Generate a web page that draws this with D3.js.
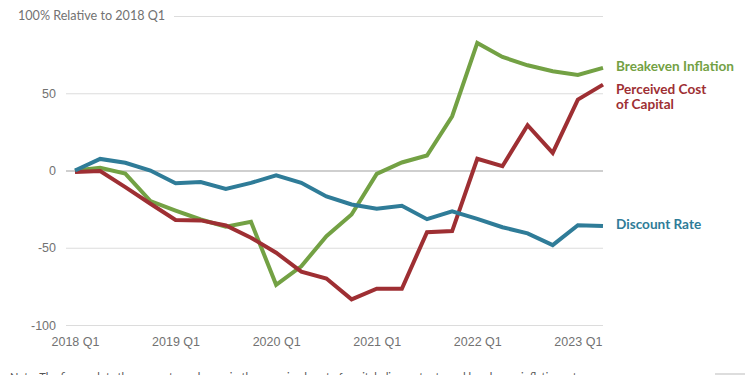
<!DOCTYPE html>
<html>
<head>
<meta charset="utf-8">
<script src="https://cdn.jsdelivr.net/npm/d3@7"></script>
<style>
  body { margin: 0; background: #fff; }
  svg { display: block; font-family: Lato, "Open Sans", sans-serif; }
  .tick text { fill: #727272; font-size: 12.5px; }
</style>
</head>
<body>
<div id="chart"></div>
<script>
var svgWidth = 750;
var svgHeight = 375;

// quarters 2018 Q1 .. 2023 Q2
var quarters = ["2018 Q1", "2018 Q2", "2018 Q3", "2018 Q4",
    "2019 Q1", "2019 Q2", "2019 Q3", "2019 Q4",
    "2020 Q1", "2020 Q2", "2020 Q3", "2020 Q4",
    "2021 Q1", "2021 Q2", "2021 Q3", "2021 Q4",
    "2022 Q1", "2022 Q2", "2022 Q3", "2022 Q4",
    "2023 Q1", "2023 Q2"];
var xTickLabels = ["2018 Q1", "2019 Q1", "2020 Q1", "2021 Q1", "2022 Q1", "2023 Q1"];
var yTicks = [-100, -50, 0, 50, 100];

var breakeven = [0, 1.7, -2, -19.8, -25.9, -31.7, -36.4, -33.2, -74, -62, -42.5, -28.5,
    -2.2, 5.2, 9.7, 35.1, 82.6, 73.5, 68.1, 64.2, 61.9, 66.4];
var costOfCapital = [-1, -0.4, -10.8, -21.5, -32, -32.3, -35.6, -43.5, -53.2, -65.5, -69.9, -83.4,
    -76.5, -76.5, -39.9, -39.2, 7.6, 2.8, 29.3, 11.4, 45.9, 55.6];
var discountRate = [0, 7.5, 5, 0, -8.3, -7.5, -12, -8, -3.2, -8, -16.8, -22,
    -24.8, -22.8, -31.5, -26.5, -31.3, -36.7, -40.7, -48.3, -35.4, -36];

var seriesNames = [["Breakeven Inflation"], ["Perceived Cost", "of Capital"], ["Discount Rate"]];
var seriesColors = ["#73a144", "#9e2f33", "#2f7c98"];
var seriesValues = [breakeven, costOfCapital, discountRate];

var margin = { top: 16, right: 147, bottom: 50, left: 66 };
var width = svgWidth - margin.left - margin.right;

var svg = d3.select("#chart")
    .append("svg")
    .attr("width", svgWidth)
    .attr("height", svgHeight);

var chartGroup = svg.append("g")
    .attr("transform", `translate(${margin.left}, ${margin.top})`);

var xScale = d3.scalePoint()
    .domain(quarters)
    .range([9, width]);

var yScale = d3.scaleLinear()
    .domain([-100, 100])
    .range([309, 0]);

// gridlines + y labels
var leftAxis = d3.axisLeft(yScale)
    .tickValues(yTicks)
    .tickSize(-width)
    .tickPadding(10)
    .tickFormat(function (d) { return d === 100 ? "" : d; });

var yAxis = chartGroup.append("g").call(leftAxis);
yAxis.select(".domain").remove();
yAxis.selectAll(".tick line")
    .attr("stroke", function (d) { return d === 0 ? "#a0a0a0" : "#dcdcdc"; })
    .attr("stroke-width", 1.2)
    .attr("x1", function (d) { return d === 100 ? 108 : 0; });

chartGroup.append("text")
    .attr("x", -48)
    .attr("y", yScale(100))
    .attr("dy", "0.35em")
    .attr("fill", "#727272")
    .style("font-size", "12.6px")
    .text("100% Relative to 2018 Q1");

// x labels
var bottomAxis = d3.axisBottom(xScale)
    .tickValues(xTickLabels)
    .tickSize(0)
    .tickPadding(12);

var xAxis = chartGroup.append("g")
    .attr("transform", `translate(0, ${yScale(-100)})`)
    .call(bottomAxis);
xAxis.select(".domain").remove();

// lines
var line = d3.line()
    .x(function (d, i) { return xScale(quarters[i]); })
    .y(function (d) { return yScale(d); });

chartGroup.selectAll(".series")
    .data(seriesValues)
    .enter()
    .append("path")
    .attr("class", "series")
    .attr("d", line)
    .attr("fill", "none")
    .attr("stroke", function (d, i) { return seriesColors[i]; })
    .attr("stroke-width", 4)
    .attr("stroke-linejoin", "miter");

// end labels, one text per line
var labelY = [66, 89, 224];
seriesNames.forEach(function (names, i) {
    names.forEach(function (n, j) {
        chartGroup.append("text")
            .attr("x", width + 13)
            .attr("y", labelY[i] - margin.top + j * 15.5)
            .attr("dy", "0.35em")
            .attr("fill", seriesColors[i])
            .style("font-size", "13.6px")
            .style("font-weight", "bold")
            .text(n);
    });
});

// note (cut off at bottom, as in the source)
svg.append("text")
    .attr("x", 10)
    .attr("y", 381)
    .attr("fill", "#555")
    .style("font-size", "11px")
    .text("Note: The figure plots the percentage change in the perceived cost of capital, discount rate and breakeven inflation rate.");

svg.append("rect")
    .attr("x", 715)
    .attr("y", 373)
    .attr("width", 30)
    .attr("height", 3)
    .attr("fill", "#ddd");
</script>
</body>
</html>
